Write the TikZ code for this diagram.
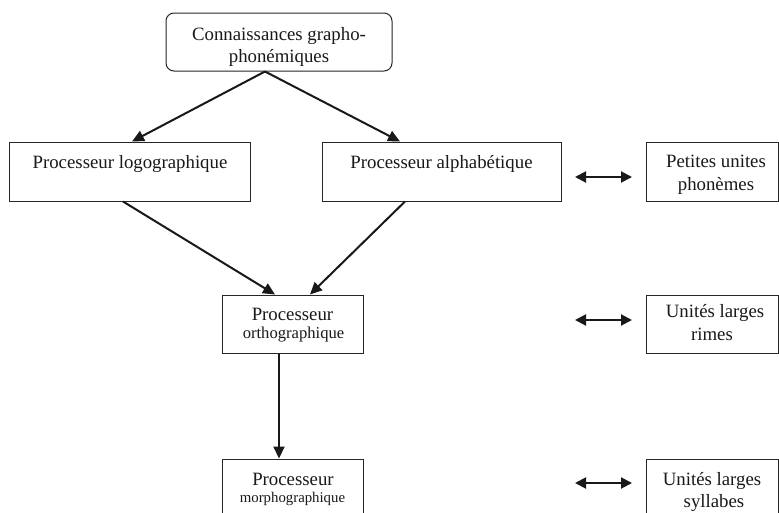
\documentclass[tikz,border=0pt]{standalone}
\usepackage{fontspec}
\setmainfont{Liberation Serif}
\usetikzlibrary{arrows.meta}
\begin{document}
\begin{tikzpicture}[x=1pt,y=-1pt,
  box/.style={draw=black!85, line width=1pt, inner sep=0pt},
  txt/.style={inner sep=0pt, anchor=base, text=black!90, font=\fontsize{18.8}{22}\selectfont},
  smalltxt/.style={txt, font=\fontsize{16.6}{20}\selectfont},
  tinytxt/.style={txt, font=\fontsize{14.8}{18}\selectfont},
  arr/.style={draw=black!90, line width=2pt, -{Triangle[length=12pt,width=11pt]}},
  darr/.style={draw=black!90, line width=2pt, {Triangle[length=11pt,width=11pt]}-{Triangle[length=11pt,width=11pt]}}]
\useasboundingbox (0,0) rectangle (779,512);
\clip (0,0) rectangle (779,512);
\fill[white] (0,0) rectangle (779,512);

% boxes
\node[box, rounded corners=8pt, minimum width=226pt, minimum height=58pt] (top) at (279,42) {};
\node[box, minimum width=241pt, minimum height=59pt] (logo) at (129.5,171.5) {};
\node[box, minimum width=239pt, minimum height=59pt] (alpha) at (441.5,171.5) {};
\node[box, minimum width=132pt, minimum height=59pt] (petites) at (712,171.5) {};
\node[box, minimum width=141pt, minimum height=58pt] (ortho) at (292.5,324) {};
\node[box, minimum width=132pt, minimum height=58pt] (rimes) at (712,324) {};
\node[box, minimum width=141pt, minimum height=61pt] (morpho) at (292.5,489.5) {};
\node[box, minimum width=132pt, minimum height=61pt] (syll) at (712,489.5) {};

% texts
\node[txt] (t1) at (279,40) {Connaissances grapho-};
\node[txt] (t2) at (279,62) {phonémiques};
\node[txt] (tlogo) at (130,168) {Processeur logographique};
\node[txt] (talpha) at (441.5,168) {Processeur alphabétique};
\node[txt] (tp1) at (716,167) {Petites unites};
\node[txt] (tp2) at (716,190) {phonèmes};
\node[txt] (to1) at (292.5,320) {Processeur};
\node[smalltxt] (to2) at (293.5,338) {orthographique};
\node[txt] (tr1) at (715,317) {Unités larges};
\node[txt] (tr2) at (712,340) {rimes};
\node[txt] (tm1) at (293,485) {Processeur};
\node[tinytxt] (tm2) at (292.5,502) {morphographique};
\node[txt] (ts1) at (712,485) {Unités larges};
\node[txt] (ts2) at (714,507) {syllabes};

% connectors
\draw[arr] ([xshift=-14pt]top.south) -- ([xshift=2.5pt]logo.north);
\draw[arr] ([xshift=-14pt]top.south) -- ([xshift=-41.5pt]alpha.north);
\draw[arr] ([xshift=-6.5pt]logo.south) -- ([xshift=-17.5pt]ortho.north);
\draw[arr] ([xshift=-36.5pt]alpha.south) -- ([xshift=17.5pt]ortho.north);
\draw[arr] ([xshift=-13.5pt]ortho.south) -- ([xshift=-13.5pt]morpho.north);

\coordinate (pa) at (575,177);
\coordinate (pb) at (632,177);
\coordinate (ra) at (575,320);
\coordinate (rb) at (632,320);
\coordinate (sa) at (575,483);
\coordinate (sb) at (632,483);
\draw[darr] (pa) -- (pb);
\draw[darr] (ra) -- (rb);
\draw[darr] (sa) -- (sb);
\end{tikzpicture}
\end{document}
